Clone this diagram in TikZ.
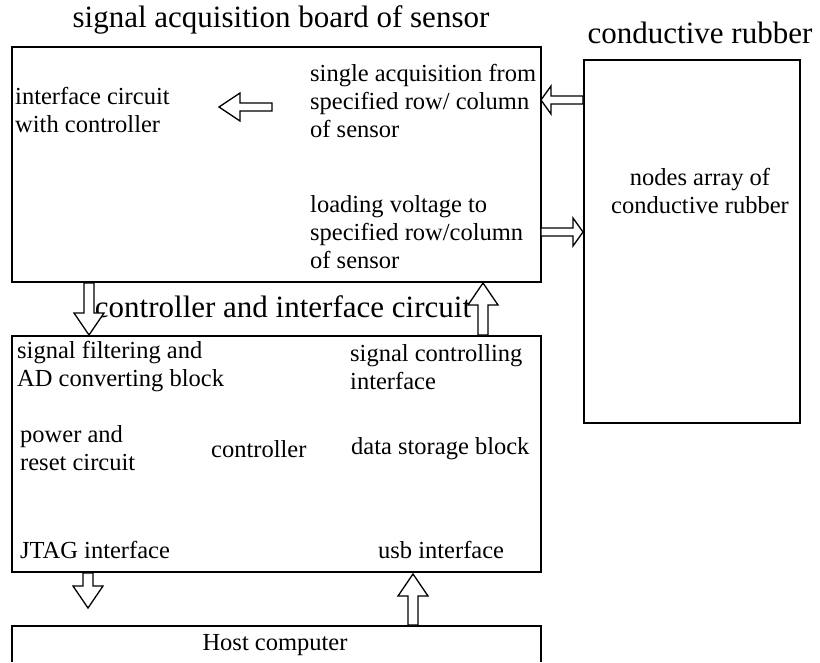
\documentclass[tikz,border=0pt]{standalone}
\usepackage{fontspec}
\setmainfont{Liberation Serif}
\begin{document}
\begin{tikzpicture}[x=1pt,y=-1pt,
  box/.style={draw,line width=1.8pt},
  txt/.style={font=\fontsize{24.5}{28}\selectfont,align=left,anchor=west,inner sep=0pt},
  ctxt/.style={font=\fontsize{24.5}{28}\selectfont,align=center,inner sep=0pt},
  ttl/.style={font=\fontsize{31}{32}\selectfont,inner sep=0pt},
  barrow/.style={draw,line width=1.3pt,fill=white},
  pics/downarrow/.style={code={
    \draw[barrow] (-5,0) -- (5,0) -- (5,#1-22) -- (15,#1-22) -- (0,#1) -- (-15,#1-22) -- (-5,#1-22) -- cycle;}},
  pics/uparrow/.style={code={
    \draw[barrow] (-5,0) -- (5,0) -- (5,-#1+22) -- (15,-#1+22) -- (0,-#1) -- (-15,-#1+22) -- (-5,-#1+22) -- cycle;}},
]
\useasboundingbox (0,0) rectangle (820,662);
% boxes
\draw[box] (12,47) rectangle (541,282);
\draw[box] (584,60) rectangle (800,423);
\draw[box] (12,336) rectangle (541,572);
\draw[box] (12,662) -- (12,626) -- (541,626) -- (541,662);
% titles
\node[ttl] (t1) at (281,20) {signal acquisition board of sensor};
\node[ttl] (t2) at (700,33) {conductive rubber};
\node[ttl] (t3) at (283,307) {controller and interface circuit};
% texts top
\node[txt] (sa) at (310,101) {single acquisition from\\specified row/ column\\of sensor};
\node[txt] (ic) at (15,110) {interface circuit\\with controller};
\node[txt] (lv) at (310,232) {loading voltage to\\specified row/column\\of sensor};
\node[ctxt] (na) at (700,191) {nodes array of\\conductive rubber};
% middle
\node[txt] (sf) at (17,367) {signal filtering and\\AD converting block};
\node[txt] (sc) at (350,367) {signal controlling\\interface};
\node[txt] (pr) at (20,448) {power and\\reset circuit};
\node[txt] (ct) at (211,449) {controller};
\node[txt] (ds) at (351,449) {data storage block};
\node[txt] (jt) at (20,550) {JTAG interface};
\node[txt] (us) at (378,550) {usb interface};
\node[ctxt] (hc) at (275,645) {Host computer};
% arrows between boxes
\pic at (89,283) {downarrow=52};
\pic at (483,335) {uparrow=52};
\pic at (88,573) {downarrow=35};
\pic at (413,625) {uparrow=51};
% side arrows
\draw[barrow] (583,96) -- (551,96) -- (551,86) -- (541,100) -- (551,114) -- (551,104) -- (583,104) -- cycle;
\draw[barrow] (541,228) -- (573,228) -- (573,218) -- (583,232) -- (573,246) -- (573,236) -- (541,236) -- cycle;
% inner arrow
\draw[barrow] (272,103) -- (240,103) -- (240,93) -- (219,107) -- (240,121) -- (240,111) -- (272,111) -- cycle;
\end{tikzpicture}
\end{document}
